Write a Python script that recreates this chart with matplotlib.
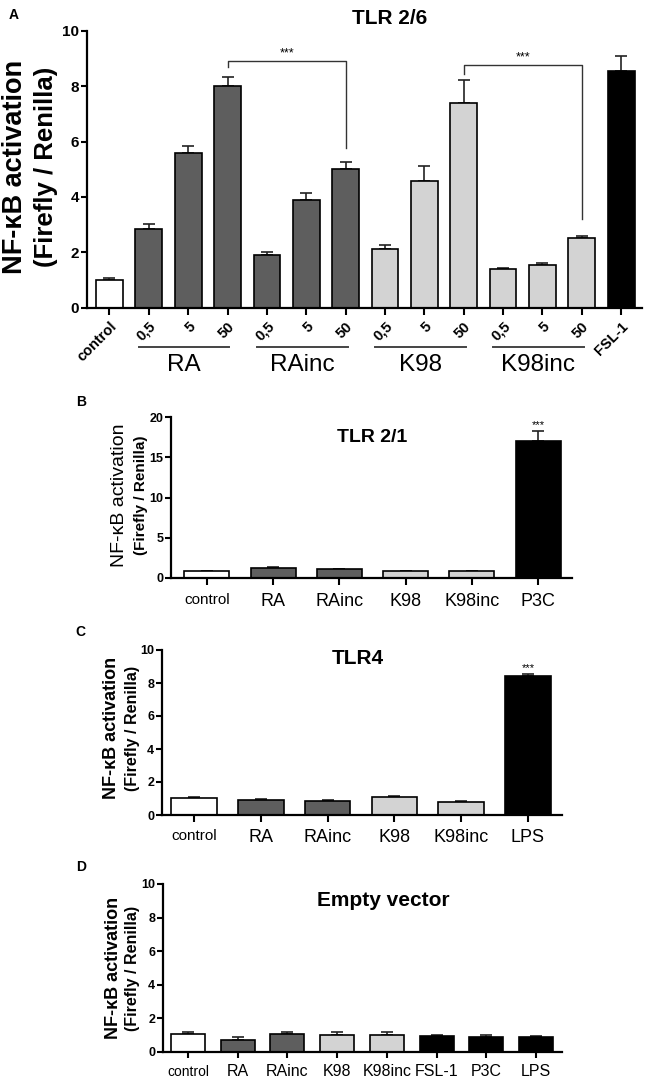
import matplotlib
matplotlib.use('Agg')
import matplotlib.pyplot as plt
import matplotlib.transforms as mtransforms

plt.rcParams['font.family'] = ['Liberation Sans', 'DejaVu Sans']

# ---- data ----
# A: TLR 2/6
tlr26_ticks = ['control', '0,5', '5', '50', '0,5', '5', '50',
               '0,5', '5', '50', '0,5', '5', '50', 'FSL-1']
tlr26_group = ['control', 'RA', 'RA', 'RA', 'RAinc', 'RAinc', 'RAinc',
               'K98', 'K98', 'K98', 'K98inc', 'K98inc', 'K98inc', 'FSL-1']
tlr26_mean = [1.0, 2.83, 5.58, 8.0, 1.9, 3.9, 5.0, 2.13, 4.58, 7.4, 1.38, 1.55, 2.5, 8.57]
tlr26_sem = [0.08, 0.18, 0.25, 0.35, 0.12, 0.25, 0.28, 0.12, 0.52, 0.82, 0.04, 0.07, 0.1, 0.52]
tlr26_sets = ['RA', 'RAinc', 'K98', 'K98inc']

# B: TLR 2/1
tlr21_labels = ['control', 'RA', 'RAinc', 'K98', 'K98inc', 'P3C']
tlr21_mean = [0.85, 1.2, 1.08, 0.88, 0.85, 17.0]
tlr21_sem = [0.04, 0.12, 0.1, 0.05, 0.05, 1.25]

# C: TLR4
tlr4_labels = ['control', 'RA', 'RAinc', 'K98', 'K98inc', 'LPS']
tlr4_mean = [1.02, 0.92, 0.85, 1.08, 0.8, 8.4]
tlr4_sem = [0.1, 0.06, 0.04, 0.05, 0.04, 0.15]

# D: empty vector
empty_labels = ['control', 'RA', 'RAinc', 'K98', 'K98inc', 'FSL-1', 'P3C', 'LPS']
empty_mean = [1.08, 0.72, 1.05, 1.03, 1.03, 0.93, 0.9, 0.88]
empty_sem = [0.12, 0.15, 0.13, 0.15, 0.15, 0.1, 0.12, 0.1]

DARK = '#5e5e5e'
LIGHT = '#d3d3d3'
colors = {'control': 'white', 'RA': DARK, 'RAinc': DARK, 'K98': LIGHT, 'K98inc': LIGHT,
          'FSL-1': 'black', 'P3C': 'black', 'LPS': 'black'}

W, H = 646, 1082
fig = plt.figure(figsize=(W / 100, H / 100), dpi=100)


def fx(px):
    return px / W


def fy(py):
    return 1 - py / H


def make_ax(left, right, top, bottom):
    return fig.add_axes([fx(left), fy(bottom), (right - left) / W, (bottom - top) / H])


def bars(ax, groups, mean, sem, ylim, yticks, xlim, ytsize):
    x = list(range(len(mean)))
    ax.bar(x, mean, width=0.68, color=[colors[g] for g in groups],
           edgecolor='black', linewidth=1.2, zorder=2)
    ax.errorbar(x, mean, yerr=[[0] * len(sem), sem], fmt='none', ecolor='#222222',
                elinewidth=1.2, capsize=4, capthick=1.2, zorder=1)
    ax.set_ylim(*ylim)
    ax.set_yticks(yticks)
    ax.set_xlim(*xlim)
    ax.set_xticks(x)
    for s in ['top', 'right']:
        ax.spines[s].set_visible(False)
    for s in ['left', 'bottom']:
        ax.spines[s].set_linewidth(1.6)
    ax.tick_params(axis='both', direction='out', width=1.5, length=4)
    ax.tick_params(axis='y', labelsize=ytsize, pad=1.5)
    for t in ax.get_yticklabels():
        t.set_fontweight('bold')
    return x


def ylab(x1, x2, yc, s1, s2, w1='bold'):
    fig.text(fx(x1), fy(yc), 'NF-κB activation', rotation=90, ha='center', va='center',
             fontsize=s1, fontweight=w1)
    fig.text(fx(x2), fy(yc), '(Firefly / Renilla)', rotation=90, ha='center', va='center',
             fontsize=s2, fontweight='bold')


# ---- A ----
axA = make_ax(87, 642, 31, 307.5)
x = bars(axA, tlr26_group, tlr26_mean, tlr26_sem, (0, 10), range(0, 11, 2), (-0.57, 13.53), 11)
axA.tick_params(axis='x', length=5)
axA.set_xticklabels(tlr26_ticks, rotation=45, ha='right', rotation_mode='anchor',
                    fontsize=10.5, fontweight='bold')
trans = mtransforms.blended_transform_factory(axA.transData, axA.transAxes)
for name in tlr26_sets:
    idx = [i for i, g in enumerate(tlr26_group) if g == name]
    x0, x1 = idx[0] - 0.25, idx[-1] + 0.05
    axA.plot([x0, x1], [-0.143, -0.143], color='#444444', lw=1.4, transform=trans, clip_on=False)
    axA.text((x0 + x1) / 2, -0.208, name, transform=trans, ha='center', va='center', fontsize=17.5)

# significance brackets
axA.plot([3, 3, 6, 6], [8.7, 8.92, 8.92, 5.77], color='#333333', lw=1)
axA.text(4.5, 8.98, '***', ha='center', va='bottom', fontsize=9)
axA.plot([9, 9, 12, 12], [8.44, 8.77, 8.77, 3.2], color='#333333', lw=1)
axA.text(10.5, 8.83, '***', ha='center', va='bottom', fontsize=9)

fig.text(fx(390), fy(18), 'TLR 2/6', ha='center', va='center', fontsize=15, fontweight='bold')
fig.text(fx(14), fy(15), 'A', ha='center', va='center', fontsize=10, fontweight='bold')
ylab(15, 46, 167, 19.5, 18.5)

# ---- B ----
axB = make_ax(171, 572, 417, 578)
x = bars(axB, tlr21_labels, tlr21_mean, tlr21_sem, (0, 20), range(0, 21, 5), (-0.54, 5.51), 9)
axB.tick_params(axis='x', length=5, pad=6)
axB.set_xticklabels(tlr21_labels, fontsize=13)
axB.get_xticklabels()[0].set_fontsize(11)
axB.text(5, 18.35, '***', ha='center', va='bottom', fontsize=8)
fig.text(fx(372), fy(437), 'TLR 2/1', ha='center', va='center', fontsize=14, fontweight='bold')
fig.text(fx(81), fy(402), 'B', ha='center', va='center', fontsize=10, fontweight='bold')
ylab(120, 141, 495, 14, 11, w1='normal')

# ---- C ----
axC = make_ax(162, 562, 650, 815)
x = bars(axC, tlr4_labels, tlr4_mean, tlr4_sem, (0, 10), range(0, 11, 2), (-0.48, 5.51), 9)
axC.tick_params(axis='x', length=5, pad=5)
axC.set_xticklabels(tlr4_labels, fontsize=13)
axC.get_xticklabels()[0].set_fontsize(11)
axC.text(5, 8.6, '***', ha='center', va='bottom', fontsize=8)
fig.text(fx(358), fy(659), 'TLR4', ha='center', va='center', fontsize=15, fontweight='bold')
fig.text(fx(80), fy(632), 'C', ha='center', va='center', fontsize=10, fontweight='bold')
ylab(112, 132, 728, 13, 11.5)

# ---- D ----
axD = make_ax(163, 562, 884, 1052)
x = bars(axD, empty_labels, empty_mean, empty_sem, (0, 10), range(0, 11, 2), (-0.5, 7.52), 9)
axD.tick_params(axis='x', length=4, pad=5)
axD.set_xticklabels(empty_labels, fontsize=11.5)
axD.get_xticklabels()[0].set_fontsize(10)
fig.text(fx(383), fy(900), 'Empty vector', ha='center', va='center', fontsize=15, fontweight='bold')
fig.text(fx(81), fy(867), 'D', ha='center', va='center', fontsize=10, fontweight='bold')
ylab(113, 133, 968, 13, 11.5)

fig.savefig('out.png', dpi=100)
